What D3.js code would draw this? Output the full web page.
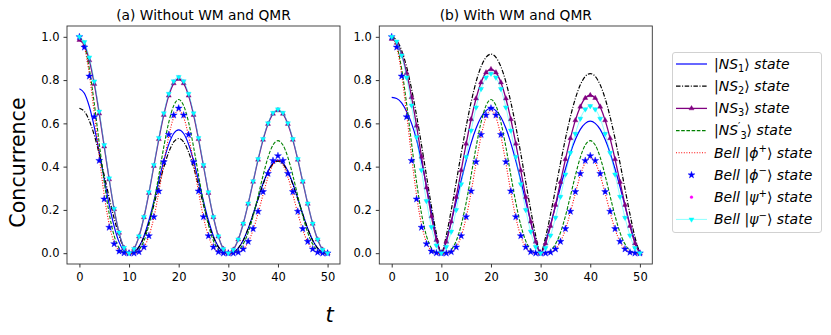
<!DOCTYPE html>
<html><head><meta charset="utf-8">
<script src="https://cdn.jsdelivr.net/npm/d3@7"></script>
<style>body{margin:0;background:#fff} svg{display:block}</style>
</head><body>
<svg id="c" width="831" height="335"></svg>
<script>
// ---------- data ----------
const timeSteps = d3.range(0, 51);
const xTicks = [0, 10, 20, 30, 40, 50];
const yTicks = [0, 0.2, 0.4, 0.6, 0.8, 1.0];
const panelTitles = ["(a) Without WM and QMR", "(b) With WM and QMR"];

// panel (a): without WM and QMR
const ns1A = [.760,.739,.677,.583,.467,.343,.224,.124,.051,.011,0,
 .006,.030,.079,.151,.240,.336,.427,.503,.553,.570,.553,.503,.427,.336,.240,.151,.079,.030,.006,0,
 .004,.023,.060,.114,.181,.253,.322,.379,.417,.430,.417,.379,.322,.253,.181,.114,.060,.023,.004,0];
const ns2A = [.670,.655,.612,.545,.458,.359,.257,.161,.081,.024,0,
 .005,.028,.074,.140,.223,.312,.397,.467,.514,.530,.514,.467,.397,.312,.223,.140,.074,.028,.005,0,
 .004,.023,.059,.113,.179,.250,.318,.375,.412,.425,.412,.375,.318,.250,.179,.113,.059,.023,.004,0];
const ns3A = [.985,.961,.891,.782,.645,.493,.341,.203,.094,.024,0,
 .020,.077,.166,.278,.403,.527,.639,.728,.785,.805,.785,.728,.639,.527,.403,.278,.166,.077,.020,0,
 .016,.063,.136,.228,.330,.432,.524,.597,.644,.660,.644,.597,.524,.432,.330,.228,.136,.063,.016,0];
const ns3pA = [1.0,.961,.852,.691,.507,.330,.183,.080,.023,.003,0,
 .002,.016,.057,.130,.234,.360,.491,.605,.682,.710,.682,.605,.491,.360,.234,.130,.057,.016,.002,0,
 .002,.012,.042,.095,.172,.264,.359,.443,.500,.520,.500,.443,.359,.264,.172,.095,.042,.012,.002,0];
const phiPlusA = [1.0,.954,.826,.645,.447,.268,.133,.050,.012,.001,0,
 .000,.006,.028,.079,.165,.283,.416,.540,.628,.660,.628,.540,.416,.283,.165,.079,.028,.006,.000,0,
 .000,.004,.018,.051,.108,.184,.271,.352,.409,.430,.409,.352,.271,.184,.108,.051,.018,.004,.000,0];
const phiMinusA = [1.0,.952,.818,.630,.428,.250,.119,.043,.009,.001,0,
 .000,.006,.028,.080,.168,.287,.422,.548,.638,.670,.638,.548,.422,.287,.168,.080,.028,.006,.000,0,
 .000,.004,.019,.054,.113,.193,.284,.368,.428,.450,.428,.368,.284,.193,.113,.054,.019,.004,.000,0];
const psiPlusA = [1.0,.976,.905,.794,.655,.500,.346,.206,.096,.025,0,
 .020,.078,.168,.282,.408,.533,.647,.737,.795,.815,.795,.737,.647,.533,.408,.282,.168,.078,.020,0,
 .016,.064,.137,.230,.333,.435,.528,.601,.649,.665,.649,.601,.528,.435,.333,.230,.137,.064,.016,0];
const psiMinusA = [1.0,.976,.905,.794,.655,.500,.346,.206,.096,.025,0,
 .020,.078,.168,.282,.408,.533,.647,.737,.795,.815,.795,.737,.647,.533,.408,.282,.168,.078,.020,0,
 .016,.064,.137,.230,.333,.435,.528,.601,.649,.665,.649,.601,.528,.435,.333,.230,.137,.064,.016,0];

// panel (b): with WM and QMR
const ns1B = [.720,.715,.695,.655,.600,.525,.425,.310,.190,.075,0,
 .060,.145,.240,.336,.427,.509,.577,.628,.659,.670,.659,.628,.577,.509,.427,.336,.240,.145,.060,0,
 .055,.132,.218,.306,.389,.463,.525,.572,.600,.610,.600,.572,.525,.463,.389,.306,.218,.132,.055,0];
const ns2B = [1.0,.984,.937,.861,.759,.637,.501,.358,.217,.090,0,
 .082,.200,.329,.461,.586,.698,.792,.862,.905,.920,.905,.862,.792,.698,.586,.461,.329,.200,.082,0,
 .074,.180,.297,.416,.529,.630,.715,.778,.817,.830,.817,.778,.715,.630,.529,.416,.297,.180,.074,0];
const ns3B = [.990,.972,.919,.833,.721,.589,.446,.303,.170,.061,0,
 .053,.146,.260,.383,.506,.619,.715,.789,.835,.850,.835,.789,.715,.619,.506,.383,.260,.146,.053,0,
 .045,.126,.223,.329,.434,.531,.614,.677,.717,.730,.717,.677,.614,.531,.434,.329,.223,.126,.045,0];
const ns3pB = [1.0,.961,.852,.691,.507,.330,.183,.080,.023,.003,0,
 .002,.016,.057,.130,.234,.360,.491,.605,.682,.710,.682,.605,.491,.360,.234,.130,.057,.016,.002,0,
 .002,.012,.042,.095,.172,.264,.359,.443,.500,.520,.500,.443,.359,.264,.172,.095,.042,.012,.002,0];
const phiPlusB = [1.0,.954,.826,.645,.447,.268,.133,.050,.012,.001,0,
 .000,.006,.028,.079,.165,.283,.416,.540,.628,.660,.628,.540,.416,.283,.165,.079,.028,.006,.000,0,
 .000,.004,.019,.053,.110,.189,.277,.360,.419,.440,.419,.360,.277,.189,.110,.053,.019,.004,.000,0];
const phiMinusB = [1.0,.952,.818,.630,.428,.250,.119,.043,.009,.001,0,
 .000,.006,.028,.080,.168,.287,.422,.548,.638,.670,.638,.548,.422,.287,.168,.080,.028,.006,.000,0,
 .000,.004,.019,.054,.113,.193,.284,.368,.428,.450,.428,.368,.284,.193,.113,.054,.019,.004,.000,0];
const psiPlusB = [1.0,.978,.914,.812,.683,.536,.384,.241,.121,.036,0,
 .029,.100,.200,.319,.445,.567,.674,.759,.812,.830,.812,.759,.674,.567,.445,.319,.200,.100,.029,0,
 .024,.082,.164,.261,.364,.464,.552,.622,.665,.680,.665,.622,.552,.464,.364,.261,.164,.082,.024,0];
const psiMinusB = [1.0,.978,.914,.812,.683,.536,.384,.241,.121,.036,0,
 .029,.100,.200,.319,.445,.567,.674,.759,.812,.830,.812,.759,.674,.567,.445,.319,.200,.100,.029,0,
 .024,.082,.164,.261,.364,.464,.552,.622,.665,.680,.665,.622,.552,.464,.364,.261,.164,.082,.024,0];

const panelData = [
  {ns1: ns1A, ns2: ns2A, ns3: ns3A, ns3p: ns3pA, phiPlus: phiPlusA, phiMinus: phiMinusA, psiPlus: psiPlusA, psiMinus: psiMinusA},
  {ns1: ns1B, ns2: ns2B, ns3: ns3B, ns3p: ns3pB, phiPlus: phiPlusB, phiMinus: phiMinusB, psiPlus: psiPlusB, psiMinus: psiMinusB}
];

// ---------- styles ----------
const FONT = "DejaVu Sans, Verdana, sans-serif";
const seriesStyle = [
  {key: "ns1", color: "blue", width: 1.2},
  {key: "ns2", color: "black", width: 1.2, dash: "4.5,1.6,1,1.6"},
  {key: "ns3", color: "purple", width: 1.3, marker: "tri"},
  {key: "ns3p", color: "green", width: 1.1, dash: "3.6,1.6"},
  {key: "phiPlus", color: "red", width: 1.1, dash: "1,1.6"},
  {key: "phiMinus", color: "blue", noLine: true, marker: "star"},
  {key: "psiPlus", color: "magenta", noLine: true, marker: "dot"},
  {key: "psiMinus", color: "cyan", width: 1.0, opacity: 0.45, marker: "tridown"}
];
const legendLabels = [
  [["|","r"],["NS","i"],["1","sub"],["⟩","r"],[" state","i"]],
  [["|","r"],["NS","i"],["2","sub"],["⟩","r"],[" state","i"]],
  [["|","r"],["NS","i"],["3","sub"],["⟩","r"],[" state","i"]],
  [["|","r"],["NS","i"],["′","sup"],["3","sub2"],["⟩","r"],[" state","i"]],
  [["Bell ","i"],["|","r"],["ϕ","i"],["+","sup"],["⟩","r"],[" state","i"]],
  [["Bell ","i"],["|","r"],["ϕ","i"],["−","sup"],["⟩","r"],[" state","i"]],
  [["Bell ","i"],["|","r"],["ψ","i"],["+","sup"],["⟩","r"],[" state","i"]],
  [["Bell ","i"],["|","r"],["ψ","i"],["−","sup"],["⟩","r"],[" state","i"]]
];

const panels = [
  {left: 67, right: 340, top: 26, bottom: 264},
  {left: 379.3, right: 652.3, top: 26, bottom: 264}
];

const svg = d3.select("#c");
svg.append("rect").attr("width", 831).attr("height", 335).attr("fill", "#fff");

function markerPath(type) {
  if (type === "tri") return d3.symbol().type(d3.symbolTriangle).size(11)();
  if (type === "tridown") return d3.symbol().type(d3.symbolTriangle).size(11)();
  if (type === "star") return d3.symbol().type(d3.symbolStar).size(15)();
  return d3.symbol().type(d3.symbolCircle).size(6)();
}

panels.forEach((p, pi) => {
  const x = d3.scaleLinear().domain([-2.5, 52.5]).range([p.left, p.right]);
  const y = d3.scaleLinear().domain([-0.05, 1.05]).range([p.bottom, p.top]);
  const g = svg.append("g");
  const clipId = "clip" + pi;
  svg.append("clipPath").attr("id", clipId).append("rect")
    .attr("x", p.left).attr("y", p.top).attr("width", p.right - p.left).attr("height", p.bottom - p.top);
  const plot = g.append("g").attr("clip-path", `url(#${clipId})`);
  const data = panelData[pi];
  const line = d3.line().x((d, i) => x(timeSteps[i])).y(d => y(d)).curve(d3.curveMonotoneX);

  seriesStyle.forEach(s => {
    const vals = data[s.key];
    if (!s.noLine) {
      plot.append("path").attr("d", line(vals)).attr("fill", "none")
        .attr("stroke", s.color).attr("stroke-width", s.width)
        .attr("stroke-opacity", s.opacity || 1)
        .attr("stroke-dasharray", s.dash || null);
    }
    if (s.marker) {
      const mp = markerPath(s.marker);
      plot.selectAll(null).data(vals).enter().append("path")
        .attr("d", mp)
        .attr("transform", (d, i) => `translate(${x(timeSteps[i])},${y(d)})` + (s.marker === "tridown" ? " rotate(180)" : ""))
        .attr("fill", s.color).attr("stroke", s.color).attr("stroke-width", 0.4);
    }
  });

  // axes
  const xa = g.append("g").attr("transform", `translate(0,${p.bottom})`)
    .call(d3.axisBottom(x).tickValues(xTicks).tickSize(3.5).tickPadding(5.5).tickSizeOuter(0));
  const ya = g.append("g").attr("transform", `translate(${p.left},0)`)
    .call(d3.axisLeft(y).tickValues(yTicks).tickFormat(d3.format(".1f")).tickSize(3.5).tickPadding(4).tickSizeOuter(0));
  [xa, ya].forEach(a => {
    a.select(".domain").remove();
    a.selectAll("text").attr("font-family", FONT).attr("font-size", 11.5).attr("fill", "#000");
    a.selectAll("line").attr("stroke", "#000").attr("stroke-width", 0.8);
  });
  g.append("rect").attr("x", p.left).attr("y", p.top).attr("width", p.right - p.left).attr("height", p.bottom - p.top)
    .attr("fill", "none").attr("stroke", "#333").attr("stroke-width", 0.9);
  g.append("text").attr("x", (p.left + p.right) / 2).attr("y", 19.5).attr("text-anchor", "middle")
    .attr("font-family", FONT).attr("font-size", 13.8).text(panelTitles[pi]);
});

// axis labels
svg.append("text").attr("transform", "translate(25,162.5) rotate(-90)").attr("text-anchor", "middle")
  .attr("font-family", FONT).attr("font-size", 20.6).text("Concurrence");
svg.append("text").attr("x", 329.5).attr("y", 322).attr("text-anchor", "middle")
  .attr("font-family", FONT).attr("font-style", "italic").attr("font-size", 21).text("t");

// legend
const lg = svg.append("g");
lg.append("rect").attr("x", 672.5).attr("y", 52.5).attr("width", 149).attr("height", 180).attr("rx", 2.5)
  .attr("fill", "#fff").attr("fill-opacity", 0.8).attr("stroke", "#ccc").attr("stroke-width", 0.9);
const legFont = 14;
seriesStyle.forEach((s, i) => {
  const cy = 64 + i * 22.2;
  if (!s.noLine) {
    lg.append("line").attr("x1", 676).attr("x2", 707).attr("y1", cy).attr("y2", cy)
      .attr("stroke", s.color).attr("stroke-width", s.width).attr("stroke-opacity", s.opacity || 1)
      .attr("stroke-dasharray", s.dash || null);
  }
  if (s.marker) {
    lg.append("path").attr("d", markerPath(s.marker))
      .attr("transform", `translate(691.5,${cy})` + (s.marker === "tridown" ? " rotate(180)" : ""))
      .attr("fill", s.color).attr("stroke", s.color).attr("stroke-width", 0.4);
  }
  const txt = lg.append("text").attr("x", 714).attr("y", cy + 4.8)
    .attr("font-family", FONT).attr("font-size", legFont);
  let cur = 0;
  legendLabels[i].forEach(([str, st]) => {
    let off = 0, size = legFont, style = "normal";
    if (st === "i") style = "italic";
    if (st === "sub" || st === "sub2") { off = 3.2; size = legFont * 0.7; }
    if (st === "sup") { off = -5.4; size = legFont * 0.72; }
    txt.append("tspan").attr("dy", off - cur).attr("font-size", size)
      .attr("font-style", style).text(str);
    cur = off;
  });
});
</script>
</body></html>
